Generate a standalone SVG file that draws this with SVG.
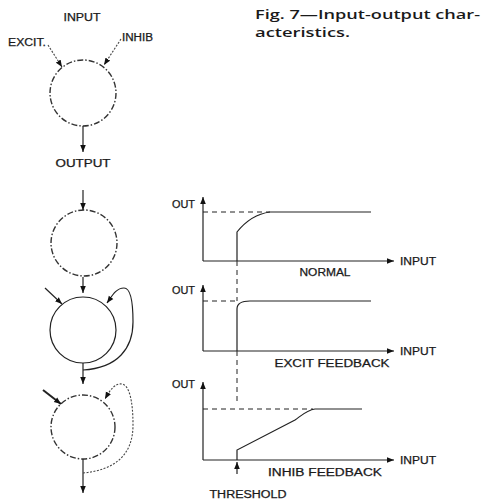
<svg xmlns="http://www.w3.org/2000/svg" width="484" height="500" viewBox="0 0 484 500">
<style>
.t{font-family:"Liberation Sans",Arial,sans-serif;font-size:10px;fill:#1a1a1a;stroke:#1a1a1a;stroke-width:0.25}
.cap{font-family:"Open Sans","Liberation Sans",Arial,sans-serif;font-size:13px;font-weight:600;fill:#1a1a1a}
.ln{fill:none;stroke:#222;stroke-width:1.2}
.dc{fill:none;stroke:#333;stroke-width:1.4;stroke-dasharray:6,2,1.5,2}
.dl{fill:none;stroke:#222;stroke-width:1;stroke-dasharray:5,4}
.ar{fill:none;stroke:#222;stroke-width:1.2;marker-end:url(#ah)}
.ard{fill:none;stroke:#444;stroke-width:1.1;stroke-dasharray:2,1.5;marker-end:url(#ah)}
</style>
<defs>
<marker id="ah" viewBox="0 0 10 10" refX="10" refY="5" markerWidth="7" markerHeight="7" markerUnits="userSpaceOnUse" orient="auto">
<path d="M0,1 L10,5 L0,9 Z" fill="#111"/>
</marker>
</defs>

<text class="cap" x="255" y="19" textLength="225" lengthAdjust="spacingAndGlyphs">Fig. 7—Input-output char-</text>
<text class="cap" x="255" y="37" textLength="95" lengthAdjust="spacingAndGlyphs">acteristics.</text>

<g id="neuron-basic">
<circle class="dc" cx="83" cy="93" r="33"/>
<text class="t" x="82" y="21" text-anchor="middle" textLength="37" lengthAdjust="spacingAndGlyphs">INPUT</text>
<text class="t" x="8" y="46" textLength="38" lengthAdjust="spacingAndGlyphs">EXCIT.</text>
<text class="t" x="122" y="41" textLength="31" lengthAdjust="spacingAndGlyphs">INHIB</text>
<path class="ard" d="M48,45 L62,67"/>
<path class="ard" d="M121,39 L104,65"/>
<path class="ar" d="M83,126 L83,152"/>
<text class="t" x="83" y="167" text-anchor="middle" textLength="55" lengthAdjust="spacingAndGlyphs">OUTPUT</text>
</g>

<g id="neuron-normal">
<circle class="dc" cx="84" cy="243" r="33"/>
<path class="ar" d="M83,190 L83,210"/>
<path class="ar" d="M83,277 L83,293"/>
</g>

<g id="neuron-excit">
<circle class="ln" cx="83" cy="330" r="33"/>
<path class="ar" d="M45,288 L62,304"/>
<path class="ar" d="M83,363 L83,384"/>
<path class="ar" d="M83,370 C118,368 133,348 133,322 C133,302 131,288 124,288 C116,288 112,296 107,303"/>
</g>

<g id="neuron-inhib">
<circle class="dc" cx="83" cy="427" r="32"/>
<path class="ar" d="M43,390 L61,404" style="stroke-width:2"/>
<path class="ar" d="M83,459 L83,493"/>
<path class="ard" d="M83,473 C115,470 133,455 133,425 C133,400 129,385 122,384 C115,383 110,390 105,399"/>
</g>

<g id="graph-normal">
<path class="ar" d="M203,261 L203,197"/>
<path class="ar" d="M203,261 L394,261"/>
<path class="dl" d="M203,212 L270,212"/>
<path class="ln" d="M237,261 L237,232 C245,222 255,214 270,212 L371,212"/>
<text class="t" x="172" y="208" textLength="23" lengthAdjust="spacingAndGlyphs">OUT</text>
<text class="t" x="400" y="265" textLength="36" lengthAdjust="spacingAndGlyphs">INPUT</text>
<text class="t" x="325" y="276" text-anchor="middle" textLength="51" lengthAdjust="spacingAndGlyphs">NORMAL</text>
</g>

<g id="graph-excit">
<path class="ar" d="M203,351 L203,285"/>
<path class="ar" d="M203,351 L394,351"/>
<path class="dl" d="M203,301 L237,301"/>
<path class="ln" d="M237,351 L237,309 C237,303 242,301 250,301 L371,301"/>
<text class="t" x="172" y="294" textLength="23" lengthAdjust="spacingAndGlyphs">OUT</text>
<text class="t" x="400" y="355" textLength="36" lengthAdjust="spacingAndGlyphs">INPUT</text>
<text class="t" x="332" y="367" text-anchor="middle" textLength="115" lengthAdjust="spacingAndGlyphs">EXCIT  FEEDBACK</text>
</g>

<g id="graph-inhib">
<path class="ar" d="M203,460 L203,382"/>
<path class="ar" d="M203,460 L394,460"/>
<path class="dl" d="M203,409 L313,409"/>
<path class="ln" d="M237,460 L237,450 L295,420 C302,415 307,410 315,409 L362,409"/>
<text class="t" x="172" y="388" textLength="23" lengthAdjust="spacingAndGlyphs">OUT</text>
<text class="t" x="400" y="464" textLength="36" lengthAdjust="spacingAndGlyphs">INPUT</text>
<text class="t" x="325" y="476" text-anchor="middle" textLength="114" lengthAdjust="spacingAndGlyphs">INHIB  FEEDBACK</text>
<path class="ar" d="M237,474 L237,462"/>
<text class="t" x="248" y="498" text-anchor="middle" textLength="77" lengthAdjust="spacingAndGlyphs">THRESHOLD</text>
</g>

<g id="connectors">
<path class="dl" d="M237,261 L237,301"/>
<path class="dl" d="M237,351 L237,404"/>
</g>
</svg>
